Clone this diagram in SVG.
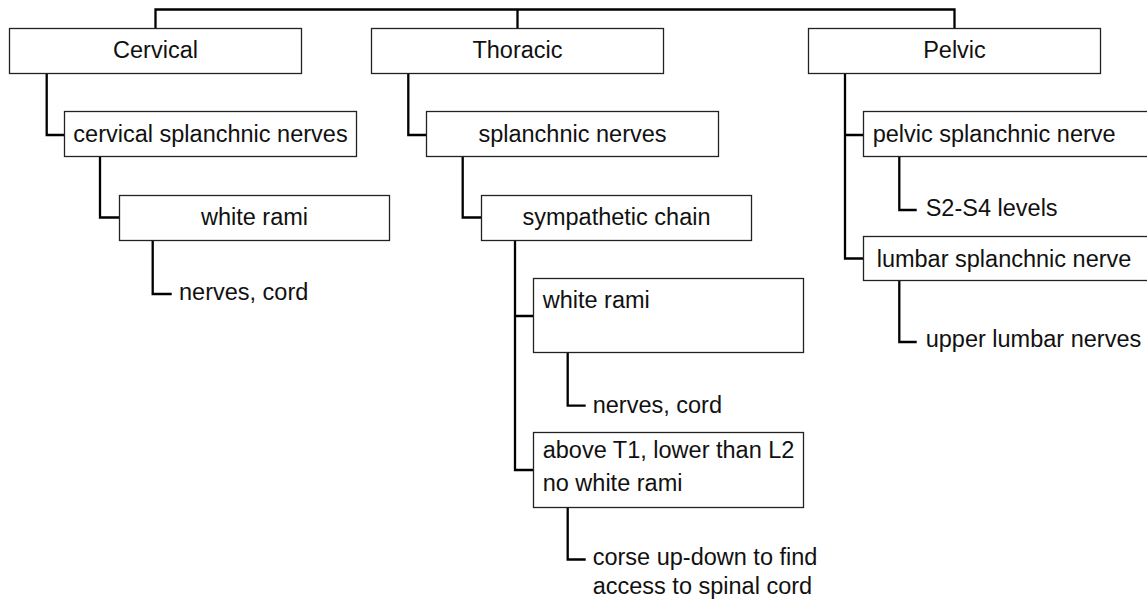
<svg xmlns="http://www.w3.org/2000/svg" width="1147" height="601" viewBox="0 0 1147 601">
<style>
.box{fill:#fff;stroke:#222;stroke-width:1.3}
.t{font-family:"Liberation Sans",Arial,sans-serif;font-size:23.5px;fill:#111}
.m{text-anchor:middle}
.c{fill:none;stroke:#000;stroke-width:2.3}
</style>
<rect width="1147" height="601" fill="#fff"/>
<g id="connectors">
<path class="c" d="M155.5,28.5 V9.5 H954.5 V28.5 M517.5,9.5 V28.5"/>
<path class="c" d="M46.7,73.5 V135 H64.5"/>
<path class="c" d="M100,156.5 V217.5 H119.5"/>
<path class="c" d="M152.7,240.5 V294 H171.7"/>
<path class="c" d="M408.3,73.5 V135 H426.5"/>
<path class="c" d="M462.7,156.5 V217.5 H481.5"/>
<path class="c" d="M515,240.5 V470 H533.5 M515,316 H533.5"/>
<path class="c" d="M567.7,352.5 V405.7 H585.7"/>
<path class="c" d="M567.7,507.5 V559.5 H585.7"/>
<path class="c" d="M845,73.5 V258.5 H863.5 M845,135 H863.5"/>
<path class="c" d="M899.3,156.5 V210 H916.7"/>
<path class="c" d="M899.3,280.5 V342 H916.7"/>
</g>
<g id="cervical"><rect class="box" x="9.5" y="28.5" width="292" height="45"/><text class="t m" x="155.5" y="58">Cervical</text></g>
<g id="thoracic"><rect class="box" x="371.5" y="28.5" width="292" height="45"/><text class="t m" x="517.5" y="58">Thoracic</text></g>
<g id="pelvic"><rect class="box" x="808.5" y="28.5" width="292" height="45"/><text class="t m" x="954.5" y="58">Pelvic</text></g>
<g id="cervical-splanchnic"><rect class="box" x="64.5" y="111.5" width="292" height="45"/><text class="t m" x="210.5" y="142">cervical splanchnic nerves</text></g>
<g id="splanchnic"><rect class="box" x="426.5" y="111.5" width="292" height="45"/><text class="t m" x="572.5" y="142">splanchnic nerves</text></g>
<g id="pelvic-splanchnic"><rect class="box" x="863.5" y="111.5" width="292" height="45"/><text class="t" x="872.7" y="142">pelvic splanchnic nerve</text></g>
<g id="white-rami-c"><rect class="box" x="119.5" y="195.5" width="270" height="45"/><text class="t m" x="254.5" y="225">white rami</text></g>
<g id="sympathetic"><rect class="box" x="481.5" y="195.5" width="270" height="45"/><text class="t m" x="616.5" y="225">sympathetic chain</text></g>
<g id="lumbar-splanchnic"><rect class="box" x="863.5" y="236.5" width="292" height="44"/><text class="t" x="876.7" y="266.5">lumbar splanchnic nerve</text></g>
<g id="s2s4"><text class="t" x="925.7" y="216">S2-S4 levels</text></g>
<g id="upper-lumbar"><text class="t" x="925.7" y="347">upper lumbar nerves</text></g>
<g id="nerves-cord-c"><text class="t" x="179" y="299.5">nerves, cord</text></g>
<g id="white-rami-t"><rect class="box" x="533.5" y="278.5" width="270" height="74"/><text class="t" x="542.7" y="307.5">white rami</text></g>
<g id="nerves-cord-t"><text class="t" x="592.7" y="412.7">nerves, cord</text></g>
<g id="above-t1"><rect class="box" x="533.5" y="432.5" width="270" height="75"/><text class="t" x="542.7" y="458">above T1, lower than L2</text><text class="t" x="542.7" y="491">no white rami</text></g>
<g id="corse"><text class="t" x="592.7" y="565">corse up-down to find</text><text class="t" x="592.7" y="594">access to spinal cord</text></g>
</svg>
